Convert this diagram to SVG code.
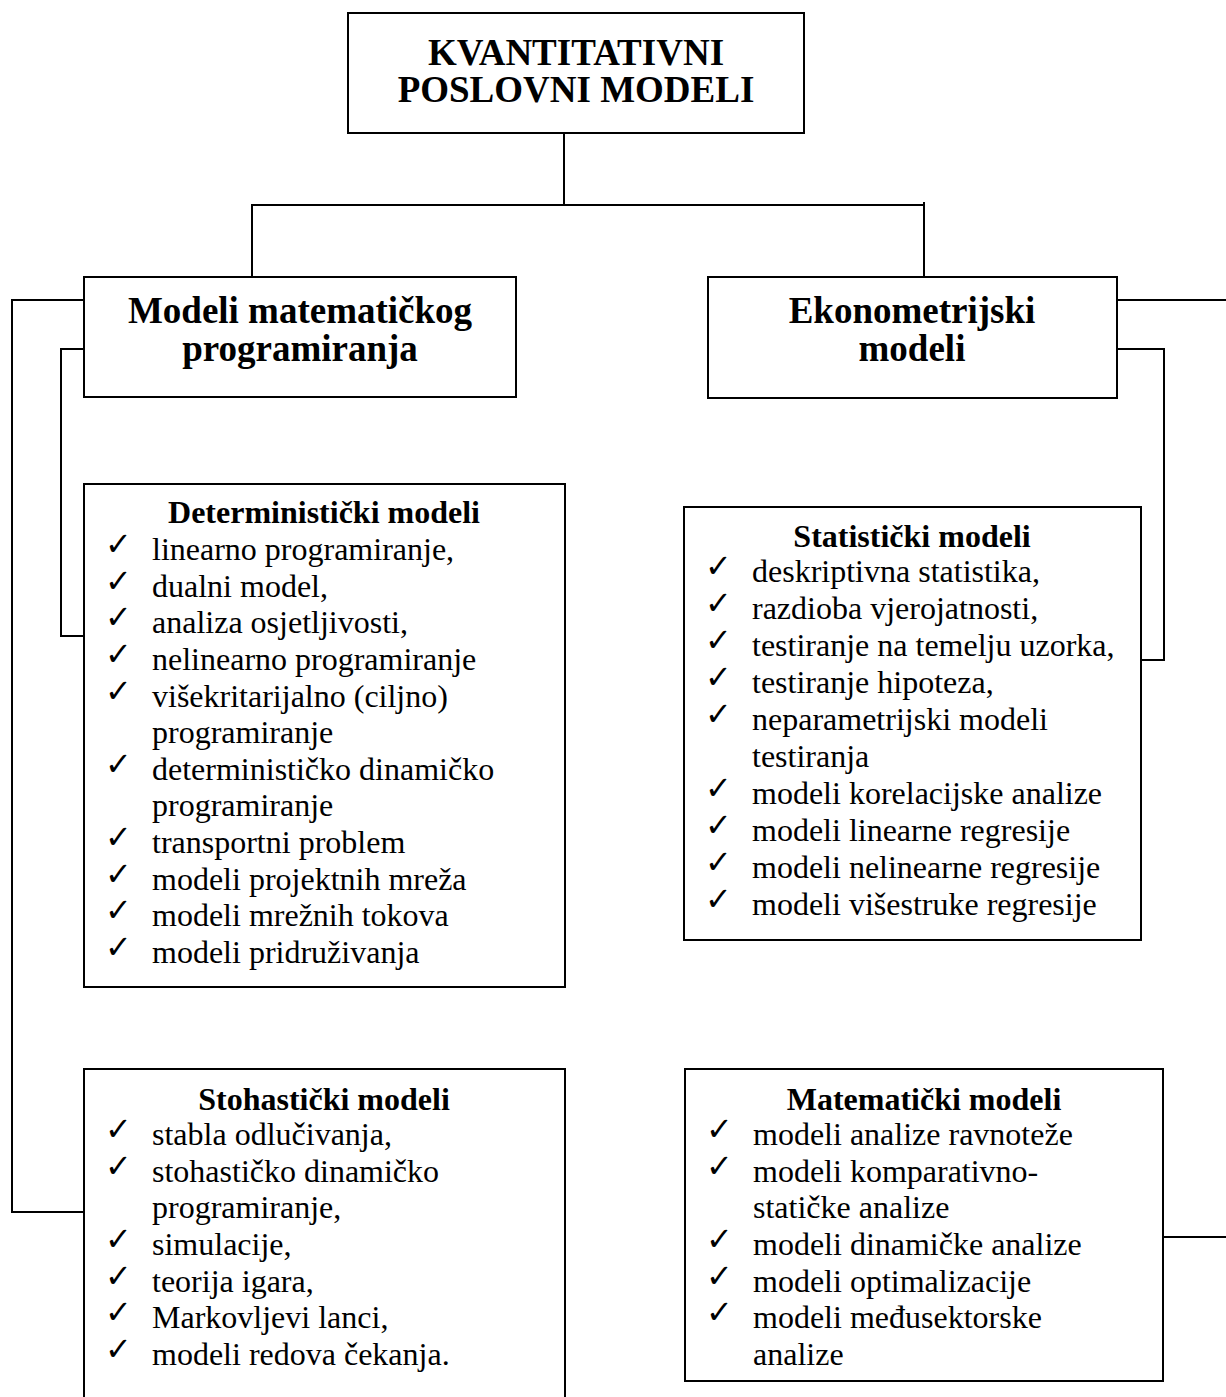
<svg xmlns="http://www.w3.org/2000/svg" width="1226" height="1397" viewBox="0 0 1226 1397">
<style>
.box{fill:#fff;stroke:#000;stroke-width:2}
.conn{fill:none;stroke:#000;stroke-width:2}
.h{font-family:"Liberation Serif","Times New Roman",serif;font-weight:bold;font-size:37px;text-anchor:middle;fill:#000}
.t{font-family:"Liberation Serif","Times New Roman",serif;font-weight:bold;font-size:32px;text-anchor:middle;fill:#000}
.i{font-family:"Liberation Serif","Times New Roman",serif;font-size:32px;fill:#000}
.c{font-family:"DejaVu Sans",sans-serif;font-size:32px;fill:#000}
</style>
<rect width="1226" height="1397" fill="#fff"/>
<g id="connectors">
<path class="conn" d="M564,133 V205"/>
<path class="conn" d="M252,277 V205 H924"/>
<path class="conn" d="M924,202 V277"/>
<path class="conn" d="M84,300 H12 V1212 H84"/>
<path class="conn" d="M84,349 H61 V636 H84"/>
<path class="conn" d="M1117,300 H1232 V1237 H1163"/>
<path class="conn" d="M1117,349 H1164 V660 H1141"/>
</g>
<g id="root">
<rect class="box" x="348" y="13" width="456" height="120"/>
<text class="h" x="576" y="65">KVANTITATIVNI</text>
<text class="h" x="576" y="102">POSLOVNI MODELI</text>
</g>
<g id="mat-prog">
<rect class="box" x="84" y="277" width="432" height="120"/>
<text class="h" x="300" y="323">Modeli matematičkog</text>
<text class="h" x="300" y="361">programiranja</text>
</g>
<g id="ekonometrijski">
<rect class="box" x="708" y="277" width="409" height="121"/>
<text class="h" x="912" y="323">Ekonometrijski</text>
<text class="h" x="912" y="361">modeli</text>
</g>
<g id="deterministicki">
<rect class="box" x="84" y="484" width="481" height="503"/>
<text class="t" x="324" y="523">Deterministički modeli</text>
<g class="c">
<text x="105" y="555">✓</text><text x="105" y="592">✓</text><text x="105" y="628">✓</text><text x="105" y="665">✓</text><text x="105" y="702">✓</text><text x="105" y="775">✓</text><text x="105" y="848">✓</text><text x="105" y="885">✓</text><text x="105" y="921">✓</text><text x="105" y="958">✓</text>
</g>
<g class="i">
<text x="152" y="560">linearno programiranje,</text>
<text x="152" y="597">dualni model,</text>
<text x="152" y="633">analiza osjetljivosti,</text>
<text x="152" y="670">nelinearno programiranje</text>
<text x="152" y="707">višekritarijalno (ciljno)</text>
<text x="152" y="743">programiranje</text>
<text x="152" y="780">determinističko dinamičko</text>
<text x="152" y="816">programiranje</text>
<text x="152" y="853">transportni problem</text>
<text x="152" y="890">modeli projektnih mreža</text>
<text x="152" y="926">modeli mrežnih tokova</text>
<text x="152" y="963">modeli pridruživanja</text>
</g>
</g>
<g id="statisticki">
<rect class="box" x="684" y="507" width="457" height="433"/>
<text class="t" x="912" y="547">Statistički modeli</text>
<g class="c">
<text x="705" y="577">✓</text><text x="705" y="614">✓</text><text x="705" y="651">✓</text><text x="705" y="688">✓</text><text x="705" y="725">✓</text><text x="705" y="799">✓</text><text x="705" y="836">✓</text><text x="705" y="873">✓</text><text x="705" y="910">✓</text>
</g>
<g class="i">
<text x="752" y="582">deskriptivna statistika,</text>
<text x="752" y="619">razdioba vjerojatnosti,</text>
<text x="752" y="656">testiranje na temelju uzorka,</text>
<text x="752" y="693">testiranje hipoteza,</text>
<text x="752" y="730">neparametrijski modeli</text>
<text x="752" y="767">testiranja</text>
<text x="752" y="804">modeli korelacijske analize</text>
<text x="752" y="841">modeli linearne regresije</text>
<text x="752" y="878">modeli nelinearne regresije</text>
<text x="752" y="915">modeli višestruke regresije</text>
</g>
</g>
<g id="stohasticki">
<rect class="box" x="84" y="1069" width="481" height="345"/>
<text class="t" x="324" y="1110">Stohastički modeli</text>
<g class="c">
<text x="105" y="1140">✓</text><text x="105" y="1177">✓</text><text x="105" y="1250">✓</text><text x="105" y="1287">✓</text><text x="105" y="1323">✓</text><text x="105" y="1360">✓</text>
</g>
<g class="i">
<text x="152" y="1145">stabla odlučivanja,</text>
<text x="152" y="1182">stohastičko dinamičko</text>
<text x="152" y="1218">programiranje,</text>
<text x="152" y="1255">simulacije,</text>
<text x="152" y="1292">teorija igara,</text>
<text x="152" y="1328">Markovljevi lanci,</text>
<text x="152" y="1365">modeli redova čekanja.</text>
</g>
</g>
<g id="matematicki">
<rect class="box" x="685" y="1069" width="478" height="312"/>
<text class="t" x="924" y="1110">Matematički modeli</text>
<g class="c">
<text x="706" y="1140">✓</text><text x="706" y="1177">✓</text><text x="706" y="1250">✓</text><text x="706" y="1287">✓</text><text x="706" y="1323">✓</text>
</g>
<g class="i">
<text x="753" y="1145">modeli analize ravnoteže</text>
<text x="753" y="1182">modeli komparativno-</text>
<text x="753" y="1218">statičke analize</text>
<text x="753" y="1255">modeli dinamičke analize</text>
<text x="753" y="1292">modeli optimalizacije</text>
<text x="753" y="1328">modeli međusektorske</text>
<text x="753" y="1365">analize</text>
</g>
</g>
</svg>
